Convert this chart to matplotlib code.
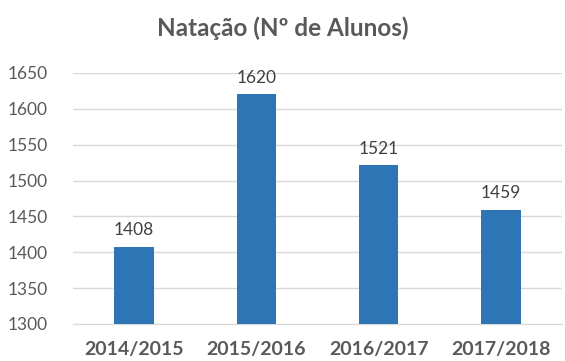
import matplotlib.pyplot as plt

# Número de alunos de natação por época
epocas = ['2014/2015', '2015/2016', '2016/2017', '2017/2018']
alunos = [1408, 1620, 1521, 1459]

plt.rcParams['font.family'] = ['Lato', 'DejaVu Sans']

cinza = '#595959'
azul = '#2E75B6'

fig = plt.figure(figsize=(5.65, 3.61), dpi=100)
ax = fig.add_axes([0.129, 0.1025, 0.866, 0.6955])

x = range(len(epocas))
barras = ax.bar(x, alunos, width=0.32, color=azul, zorder=3)

for b, v in zip(barras, alunos):
    ax.text(b.get_x() + b.get_width() / 2, v + 12, str(v),
            ha='center', va='bottom', fontsize=12.5, color='#404040')

ax.set_ylim(1300, 1650)
ax.set_yticks(range(1300, 1651, 50))
ax.set_xlim(-0.5, 3.5)
ax.set_xticks(list(x))
ax.set_xticklabels(epocas, fontweight='bold', fontsize=14)

ax.grid(axis='y', color='#D9D9D9', linewidth=1, zorder=0)
for lado in ['top', 'right', 'left']:
    ax.spines[lado].set_visible(False)
ax.spines['bottom'].set_color('#D9D9D9')
ax.tick_params(axis='both', length=0, colors=cinza)
ax.tick_params(axis='y', pad=18, labelsize=12.5)
ax.tick_params(axis='x', pad=12)

fig.text(0.5, 0.922, 'Natação (Nº de Alunos)', ha='center', va='center',
         fontsize=17.5, fontweight='bold', color=cinza)

fig.savefig('out.png', dpi=100)
